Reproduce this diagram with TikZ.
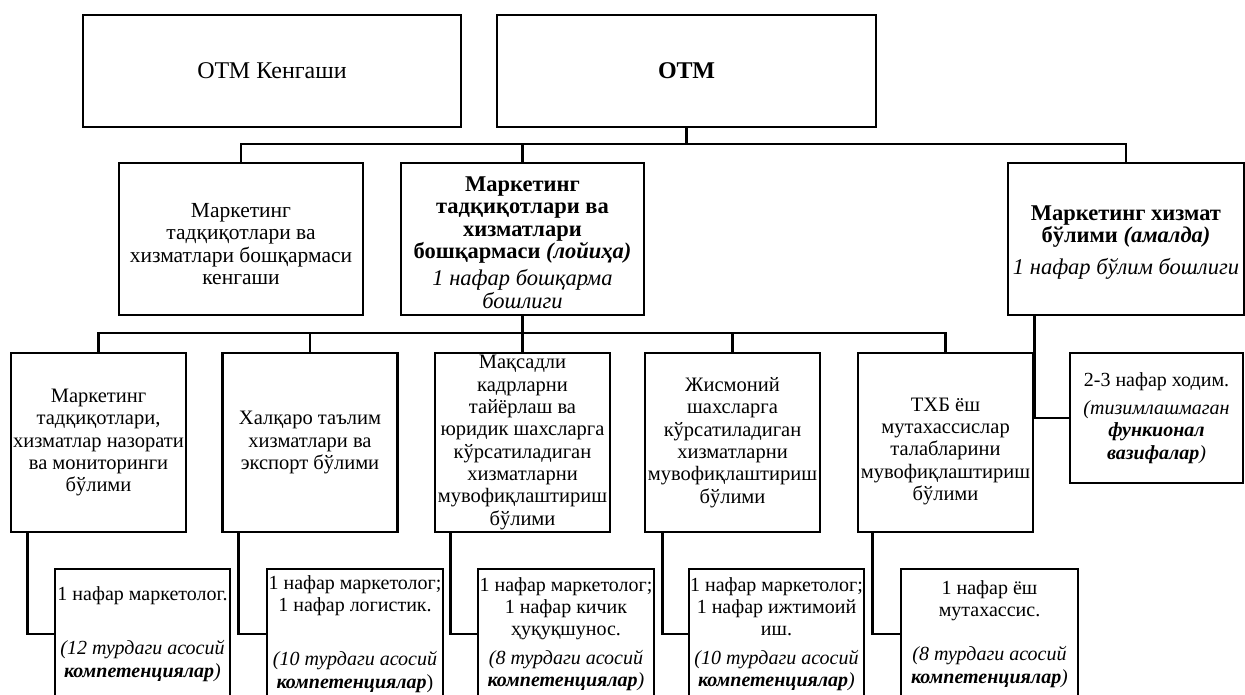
\documentclass[tikz,border=0pt]{standalone}
\usepackage{fontspec}
\setmainfont{Liberation Serif}
\usetikzlibrary{calc}
\begin{document}
\begin{tikzpicture}[x=1pt,y=-1pt,
  box/.style={draw, line width=2.8pt, align=center, inner sep=0pt, fill=white},
  ftop/.style={font=\fontsize{24}{26}\selectfont},
  fmid/.style={font=\fontsize{21.5}{22.3}\selectfont},
  fhead/.style={font=\fontsize{22.5}{22.3}\selectfont},
  frow/.style={font=\fontsize{20.5}{22.3}\selectfont},
  fsub/.style={font=\fontsize{20}{22.3}\selectfont},
  conn/.style={line width=2.8pt}]
\useasboundingbox (0,0) rectangle (1245,695);
% top row
\node[box, ftop, minimum width=378pt, minimum height=112pt] (kengash) at (272,71) {ОТМ Кенгаши};
\node[box, ftop, minimum width=379pt, minimum height=112pt] (otm) at (686.5,71) {\textbf{ОТМ}};
% second row
\node[box, fmid, minimum width=244pt, minimum height=152pt] (b2a) at (241,239)
  {\rule{0pt}{24pt}Маркетинг\\тадқиқотлари ва\\хизматлари бошқармаси\\кенгаши};
\node[box, fhead, minimum width=243pt, minimum height=152pt] (b2b) at (522.5,239)
  {\rule{0pt}{22pt}\textbf{Маркетинг}\\\textbf{тадқиқотлари ва}\\\textbf{хизматлари}\\\textbf{бошқармаси \textit{(лойиҳа)}}\\[5pt]\textit{1 нафар бошқарма}\\\textit{бошлиги}};
\node[box, fhead, minimum width=236pt, minimum height=152pt] (b2c) at (1126,239)
  {\rule{0pt}{22pt}\textbf{Маркетинг хизмат}\\\textbf{бўлими \textit{(амалда)}}\\[10pt]\textit{1 нафар бўлим бошлиги}};
% third row
\node[box, frow, minimum width=175pt, minimum height=179pt] (r1) at (98.5,442.5)
  {Маркетинг\\тадқиқотлари,\\хизматлар назорати\\ва мониторинги\\бўлими};
\node[box, frow, minimum width=175pt, minimum height=179pt] (r2) at (310,442.5)
  {Халқаро таълим\\хизматлари ва\\экспорт бўлими};
\node[box, frow, minimum width=175pt, minimum height=179pt] (r3) at (522.5,442.5)
  {Мақсадли\\кадрларни\\тайёрлаш ва\\юридик шахсларга\\кўрсатиладиган\\хизматларни\\мувофиқлаштириш\\бўлими};
\node[box, frow, minimum width=175pt, minimum height=179pt] (r4) at (732.5,442.5)
  {Жисмоний\\шахсларга\\кўрсатиладиган\\хизматларни\\мувофиқлаштириш\\бўлими};
\node[box, frow, minimum width=175pt, minimum height=179pt] (r5) at (945.5,442.5)
  {\rule{0pt}{31pt}ТХБ ёш\\мутахассислар\\талабларини\\мувофиқлаштириш\\бўлими};
\node[box, fsub, minimum width=173pt, minimum height=130pt] (staff) at (1156.5,418)
  {2-3 нафар ходим.\\[6pt]\textit{(тизимлашмаган}\\\textbf{\textit{функионал}}\\\textbf{\textit{вазифалар}}\textit{)}};
% fourth row
\node[box, fsub, minimum width=175pt, minimum height=130pt] (s1) at (142.5,634)
  {1 нафар маркетолог.\\[32pt]\textit{(12 турдаги асосий}\\\textbf{\textit{компетенциялар}}\textit{)}};
\node[box, fsub, minimum width=176pt, minimum height=130pt] (s2) at (355,634)
  {1 нафар маркетолог;\\1 нафар логистик.\\[32pt]\textit{(10 турдаги асосий}\\\textbf{\textit{компетенциялар}})};
\node[box, fsub, minimum width=176pt, minimum height=130pt] (s3) at (566,634)
  {1 нафар маркетолог;\\1 нафар кичик\\ҳуқуқшунос.\\[6pt]\textit{(8 турдаги асосий}\\\textbf{\textit{компетенциялар}}\textit{)}};
\node[box, fsub, minimum width=175pt, minimum height=130pt] (s4) at (776.5,634)
  {1 нафар маркетолог;\\1 нафар ижтимоий\\иш.\\[6pt]\textit{(10 турдаги асосий}\\\textbf{\textit{компетенциялар}}\textit{)}};
\node[box, fsub, minimum width=177pt, minimum height=130pt] (s5) at (989.5,634)
  {1 нафар ёш\\мутахассис.\\[22pt]\textit{(8 турдаги асосий}\\\textbf{\textit{компетенциялар}}\textit{)}};
% connectors
\coordinate (busA) at (0,144);
\coordinate (busB) at (0,333);
\draw[conn] (otm.south) -- (otm.south |- busA);
\draw[conn] (b2a.north) -- (b2a.north |- busA) -- (b2c.north |- busA) -- (b2c.north);
\draw[conn] (b2b.north) -- (b2b.north |- busA);
\draw[conn] (b2b.south) -- (b2b.south |- busB);
\draw[conn] (r1.north) -- (r1.north |- busB) -- (r5.north |- busB) -- (r5.north);
\foreach \r in {r2,r3,r4} \draw[conn] (\r.north) -- (\r.north |- busB);
\draw[conn] (r5.east |- b2c.south) -- (r5.east |- staff.west) -- (staff.west);
\foreach \r/\s/\d in {r1/s1/18,r2/s2/17,r3/s3/17,r4/s4/19,r5/s5/16} {
  \coordinate (c\s) at ($(\r.south west)+(\d,0)$);
  \draw[conn] (c\s) -- (c\s |- \s.west) -- (\s.west);
}
\end{tikzpicture}
\end{document}
